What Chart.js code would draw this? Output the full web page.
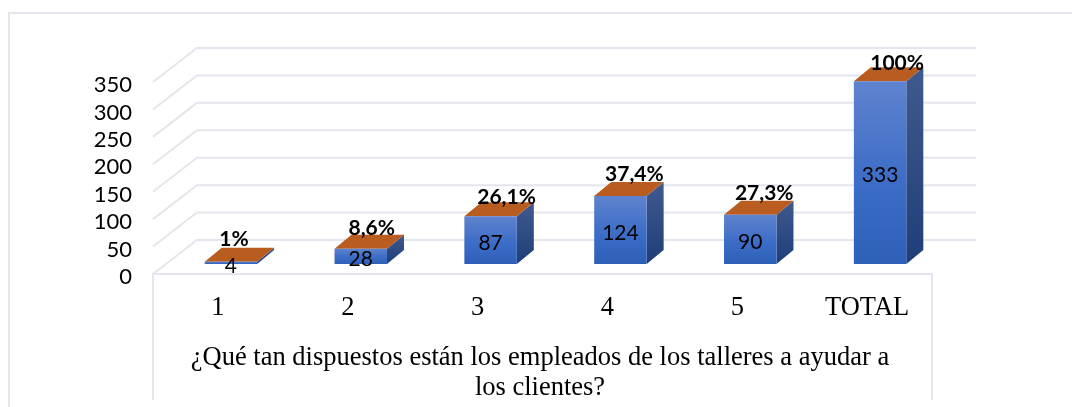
<!DOCTYPE html>
<html>
<head>
<meta charset="utf-8">
<style>
  body { margin: 0; background: #ffffff; }
  canvas { display: block; }
</style>
<script src="https://cdn.jsdelivr.net/npm/chart.js@4"></script>
</head>
<body>
<canvas id="chart" width="1072" height="407"></canvas>
<script>
const categories = ["1", "2", "3", "4", "5", "TOTAL"];
const values = [4, 28, 87, 124, 90, 333];
const percentLabels = ["1%", "8,6%", "26,1%", "37,4%", "27,3%", "100%"];
const yTicksMax = 350;
const yTicksStep = 50;
const titleLines = [
  "¿Qué tan dispuestos están los empleados de los talleres a ayudar a",
  "los clientes?"
];

// label nudges relative to each bar, the originals were placed by hand
const percentNudgeX = [3, 11, 16, 14, 14, 17];
const percentNudgeY = [-23, -20, -19, -22, -21, -18];

const GRID_COLOR = "#e3e6ee";
const SANS = "Lato";
const SERIF = "'Liberation Serif'";

// 3D look: bars sit between the front plane of the floor and the back wall
const BAR_DX = 17, BAR_DY = 14;
const FRONT_DX = -13, FRONT_DY = 10;
const BACK_DX = 31, BACK_DY = -24;

function frontGradient(ctx, top, bottom) {
  const g = ctx.createLinearGradient(0, top, 0, bottom);
  g.addColorStop(0, "#5f83cf");
  g.addColorStop(0.6, "#3a6bc6");
  g.addColorStop(1, "#2f60b8");
  return g;
}

const wallsPlugin = {
  id: "walls",
  beforeDatasetsDraw(chart) {
    const { ctx, chartArea } = chart;
    const y = chart.scales.y;
    const left = chartArea.left + FRONT_DX;
    const right = chartArea.right + FRONT_DX;

    ctx.save();
    ctx.strokeStyle = GRID_COLOR;
    ctx.lineWidth = 2;

    // outer frame
    ctx.beginPath();
    ctx.moveTo(9, 407);
    ctx.lineTo(9, 13);
    ctx.lineTo(1072, 13);
    ctx.stroke();

    // gridlines, floor edge and axis label box
    y.ticks.forEach((t) => {
      const py = y.getPixelForValue(t.value);
      ctx.beginPath();
      ctx.moveTo(left, py + FRONT_DY);
      ctx.lineTo(left + BACK_DX - FRONT_DX, py + BACK_DY);
      ctx.lineTo(right + BACK_DX - FRONT_DX, py + BACK_DY);
      ctx.stroke();
    });
    const floorY = y.getPixelForValue(0) + FRONT_DY;
    ctx.beginPath();
    ctx.moveTo(left, 400);
    ctx.lineTo(left, floorY);
    ctx.lineTo(right, floorY);
    ctx.lineTo(right, 400);
    ctx.stroke();
    ctx.restore();

    // bar sides and tops, built on the bars the library laid out
    const meta = chart.getDatasetMeta(0);
    meta.data.forEach((bar) => {
      const l = bar.x - bar.width / 2;
      const r = bar.x + bar.width / 2;
      const side = ctx.createLinearGradient(0, bar.y - BAR_DY, 0, bar.base);
      side.addColorStop(0, "#3f5a8f");
      side.addColorStop(1, "#1f3e78");
      ctx.fillStyle = side;
      ctx.beginPath();
      ctx.moveTo(r, bar.y);
      ctx.lineTo(r + BAR_DX, bar.y - BAR_DY);
      ctx.lineTo(r + BAR_DX, bar.base - BAR_DY);
      ctx.lineTo(r, bar.base);
      ctx.closePath();
      ctx.fill();

      ctx.fillStyle = "#b85c20";
      ctx.beginPath();
      ctx.moveTo(l, bar.y);
      ctx.lineTo(l + BAR_DX, bar.y - BAR_DY);
      ctx.lineTo(r + BAR_DX, bar.y - BAR_DY);
      ctx.lineTo(r, bar.y);
      ctx.closePath();
      ctx.fill();
    });
  },
  afterDraw(chart) {
    const { ctx } = chart;
    const meta = chart.getDatasetMeta(0);
    ctx.save();
    ctx.textAlign = "center";
    ctx.textBaseline = "middle";
    ctx.fillStyle = "#000000";
    meta.data.forEach((bar, i) => {
      ctx.font = "21px " + SANS;
      ctx.fillText(String(values[i]), bar.x, (bar.y + bar.base) / 2 + 3);
      ctx.font = "bold 21px " + SANS;
      ctx.fillText(percentLabels[i], bar.x + percentNudgeX[i], bar.y + percentNudgeY[i]);
    });
    ctx.font = "26.5px " + SERIF;
    ctx.fillText(titleLines[0], 540, 358);
    ctx.fillText(titleLines[1], 540, 388);
    ctx.restore();
  }
};

new Chart(document.getElementById("chart").getContext("2d"), {
  type: "bar",
  data: {
    labels: categories,
    datasets: [
      {
        data: values,
        barPercentage: 0.404,
        categoryPercentage: 1,
        backgroundColor(c) {
          const area = c.chart.chartArea;
          if (!area || c.parsed === undefined) return "#3a6bc6";
          const y = c.chart.scales.y;
          return frontGradient(c.chart.ctx, y.getPixelForValue(c.parsed.y), y.getPixelForValue(0));
        },
      },
    ],
  },
  options: {
    responsive: false,
    animation: false,
    events: [],
    layout: { autoPadding: false, padding: { top: 72, right: 127, left: 0, bottom: 0 } },
    plugins: { legend: { display: false }, tooltip: { enabled: false } },
    scales: {
      x: {
        grid: { display: false },
        border: { display: false },
        afterFit(s) { s.height = 143; },
        ticks: {
          maxRotation: 0,
          autoSkip: false,
          padding: 20,
          labelOffset: -13,
          color: "#000000",
          font: { family: SERIF, size: 26.5 },
        },
      },
      y: {
        min: 0,
        max: yTicksMax,
        grid: { display: false },
        border: { display: false },
        afterFit(s) { s.width = 166; },
        ticks: {
          autoSkip: false,
          stepSize: yTicksStep,
          padding: 26,
          labelOffset: 13,
          color: "#000000",
          font: { family: SANS, size: 22 },
        },
      },
    },
  },
  plugins: [wallsPlugin],
});
</script>
</body>
</html>
